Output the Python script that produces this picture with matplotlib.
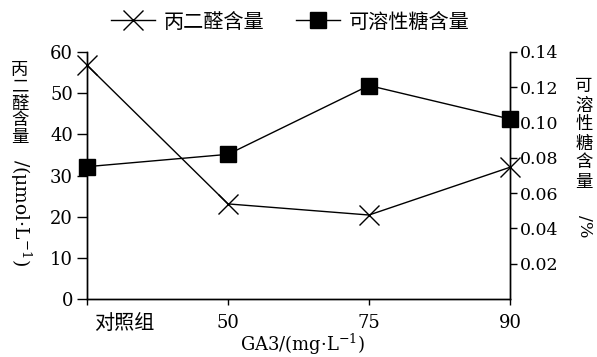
import matplotlib
matplotlib.use('Agg')
import matplotlib.pyplot as plt
import matplotlib.transforms as mtransforms
from matplotlib.lines import Line2D

categories = ['对照组', '50', '75', '90']
mda = [56.8, 23.1, 20.4, 32.0]
sugar = [0.075, 0.082, 0.121, 0.102]
left_ticks = [0, 10, 20, 30, 40, 50, 60]
right_ticks = [0.02, 0.04, 0.06, 0.08, 0.10, 0.12, 0.14]
series_names = ['丙二醛含量', '可溶性糖含量']
left_label = '丙二醛含量'
right_label = '可溶性糖含量'

plt.rcParams['font.family'] = ['DejaVu Serif', 'Noto Sans CJK SC']
plt.rcParams['mathtext.fontset'] = 'dejavuserif'

W, H = 597, 357
fig = plt.figure(figsize=(W / 100, H / 100), dpi=100, facecolor='white')
ax = fig.add_axes([87 / W, 1 - 299 / H, (510 - 87) / W, (299 - 52) / H])
ax2 = ax.twinx()

x = list(range(len(categories)))
ax.plot(x, mda, color='black', lw=1.0, marker='x', markersize=14, markeredgewidth=1.0, clip_on=False, zorder=3)
ax2.plot(x, sugar, color='black', lw=1.0, marker='s', markersize=11, clip_on=False, zorder=3)

ax.set_xlim(0, 3)
ax.set_ylim(0, 60)
ax2.set_ylim(0, 0.14)
ax.set_yticks(left_ticks)
ax2.set_yticks(right_ticks)
ax2.set_yticklabels(['%.2f' % v for v in right_ticks])
ax.set_xticks(x)
ax.set_xticklabels(categories)

for a in (ax, ax2):
    a.spines['top'].set_visible(False)
    for s in a.spines.values():
        s.set_linewidth(1.0)
ax.tick_params(axis='y', direction='out', length=7, width=1, labelsize=13, pad=3)
ax.tick_params(axis='x', direction='out', length=4, width=1, labelsize=13, pad=7)
ax2.tick_params(axis='y', direction='out', length=5, width=1, labelsize=12.5, pad=2)

# first x tick label sits to the right of the axis
lbl = ax.get_xticklabels()[0]
lbl.set_fontsize(14.5)
lbl.set_horizontalalignment('left')
lbl.set_transform(lbl.get_transform() + mtransforms.ScaledTranslation(0.07, 0, fig.dpi_scale_trans))

# left y label: upright characters stacked, unit rotated
for i, ch in enumerate(left_label):
    fig.text(20 / W, 1 - (70 + i * 17) / H, ch, ha='center', va='center', fontsize=12.5)
fig.text(21 / W, 1 - 213 / H, '/(μmol·L$^{-1}$)', ha='center', va='center', rotation=-90, fontsize=13.5)

# right y label
for i, ch in enumerate(right_label):
    fig.text(584 / W, 1 - (87 + i * 19) / H, ch, ha='center', va='center', fontsize=12.5)
fig.text(585 / W, 1 - 226 / H, '/%', ha='center', va='center', rotation=-90, fontsize=12.5)

fig.text(303 / W, 1 - 344 / H, 'GA3/(mg·L$^{-1}$)', ha='center', va='center', fontsize=13)

handles = [
    Line2D([], [], color='black', lw=1.0, marker='x', markersize=14, markeredgewidth=1.0),
    Line2D([], [], color='black', lw=1.0, marker='s', markersize=11),
]
fig.legend(handles, series_names, loc='center', bbox_to_anchor=(290 / W, 1 - 22 / H),
           ncol=2, frameon=False, fontsize=14.5, handlelength=2.2, columnspacing=1.6, handletextpad=0.4)

fig.savefig('out.png', dpi=100, facecolor='white')
